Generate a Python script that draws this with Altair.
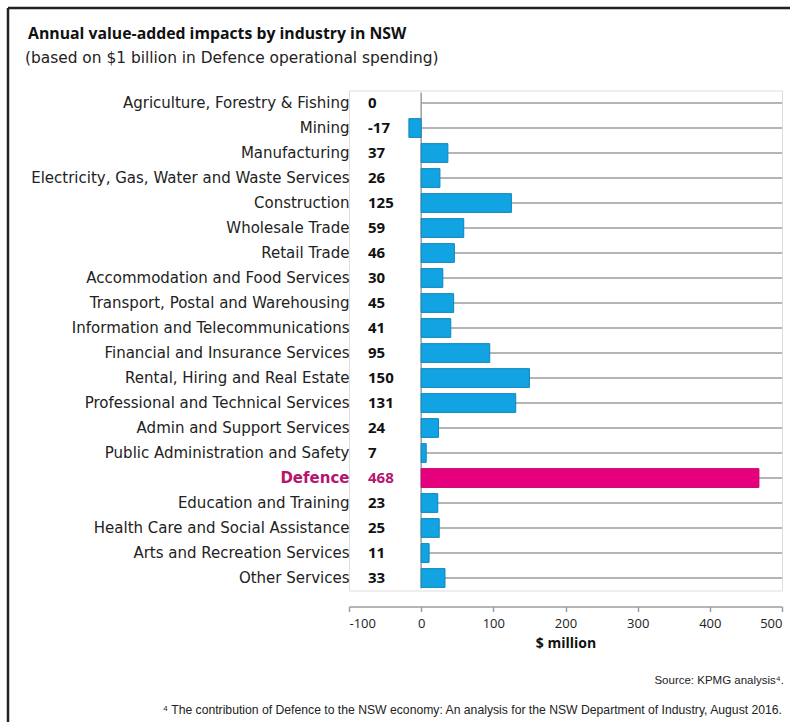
import altair as alt
import pandas as pd

categories = [
    "Agriculture, Forestry & Fishing",
    "Mining",
    "Manufacturing",
    "Electricity, Gas, Water and Waste Services",
    "Construction",
    "Wholesale Trade",
    "Retail Trade",
    "Accommodation and Food Services",
    "Transport, Postal and Warehousing",
    "Information and Telecommunications",
    "Financial and Insurance Services",
    "Rental, Hiring and Real Estate",
    "Professional and Technical Services",
    "Admin and Support Services",
    "Public Administration and Safety",
    "Defence",
    "Education and Training",
    "Health Care and Social Assistance",
    "Arts and Recreation Services",
    "Other Services",
]
values = [0, -17, 37, 26, 125, 59, 46, 30, 45, 41, 95, 150, 131, 24, 7, 468, 23, 25, 11, 33]
highlight = "Defence"
x_ticks = [-100, 0, 100, 200, 300, 400, 500]

title_text = "Annual value-added impacts by industry in NSW"
subtitle_text = "(based on $1 billion in Defence operational spending)"
source_text = "Source: KPMG analysis\u2074."
footnote_text = "\u2074 The contribution of Defence to the NSW economy: An analysis for the NSW Department of Industry, August 2016."

df = pd.DataFrame({
    "cat": categories,
    "val": values,
    "label": [str(v) for v in values],
    "grp": ["hi" if c == highlight else "lo" for c in categories],
})

FONT = "Open Sans"
LFONT = "DejaVu Sans"
W, H = 433, 500

xs = alt.Scale(domain=[-100, 500], nice=False, zero=False)
ys = alt.Scale(domain=categories, paddingInner=0.25, paddingOuter=0.125)

base = alt.Chart(df)

is_hi = "datum.value == '" + highlight + "'"

grid = base.mark_rule(color="#9d9d9d", strokeWidth=1.5).encode(
    y=alt.Y("cat:N", scale=ys, sort=categories,
            axis=alt.Axis(title=None, ticks=False, domain=False, labelPadding=0,
                          labelFont=LFONT, labelFontSize=15,
                          labelColor={"condition": {"test": is_hi, "value": "#b5146f"}, "value": "#222222"},
                          labelFontWeight={"condition": {"test": is_hi, "value": "bold"}, "value": "normal"},
                          labelLimit=400)),
    x=alt.datum(0, scale=xs),
    x2=alt.datum(500),
)

zero_line = alt.Chart(pd.DataFrame({"z": [0]})).mark_rule(color="#9d9d9d", strokeWidth=1.5).encode(
    x=alt.X("z:Q", scale=xs,
            axis=alt.Axis(values=x_ticks, title="$ million", offset=16,
                          labelExpr="'' + datum.value",
                          domainColor="#9d9d9d", domainWidth=1.5,
                          tickColor="#9d9d9d", tickWidth=1.5, tickSize=5,
                          labelFont=FONT, labelFontSize=13, labelColor="#222",
                          labelPadding=6, grid=False,
                          titleFont=FONT, titleFontSize=14, titleFontWeight="bold",
                          titleColor="#111", titlePadding=6)),
    y=alt.value(2),
    y2=alt.value(498),
)

bars = base.transform_filter(alt.datum.val != 0).mark_bar(strokeWidth=1).encode(
    y=alt.Y("cat:N", scale=ys, sort=categories),
    x=alt.X("val:Q", scale=xs),
    x2=alt.datum(0),
    color=alt.Color("grp:N", scale=alt.Scale(domain=["hi", "lo"], range=["#e6007e", "#12a3e3"]), legend=None),
    stroke=alt.Stroke("grp:N", scale=alt.Scale(domain=["hi", "lo"], range=["#c4006b", "#0d86bd"]), legend=None),
)

vals = base.mark_text(align="left", baseline="middle", font=FONT, fontSize=15, fontWeight="bold").encode(
    y=alt.Y("cat:N", scale=ys, sort=categories),
    x=alt.value(19),
    text="label:N",
    color=alt.Color("grp:N", scale=alt.Scale(domain=["hi", "lo"], range=["#b5146f", "#111111"]), legend=None),
)

def txt(s, x, y, **kw):
    return alt.Chart(pd.DataFrame({"t": [s]})).mark_text(**kw).encode(
        x=alt.value(x), y=alt.value(y), text="t:N")

title = txt(title_text, -321, -51.5, align="left", baseline="alphabetic", font=FONT,
            fontSize=15.8, fontWeight="bold", color="#111")
subtitle = txt(subtitle_text, -324, -27.5, align="left", baseline="alphabetic", font=LFONT,
               fontSize=15.4, color="#222")
source = txt(source_text, 435, 593.5, align="right", baseline="alphabetic",
             font="Liberation Sans", fontSize=11.5, color="#222")
footnote = txt(footnote_text, 433, 623.5, align="right", baseline="alphabetic",
               font="Liberation Sans", fontSize=12.2, color="#222")

frame_top = alt.Chart(pd.DataFrame({"t": [0]})).mark_rule(color="#222", strokeWidth=2.5).encode(
    x=alt.value(-341), x2=alt.value(460), y=alt.value(-82.5))
frame_left = alt.Chart(pd.DataFrame({"t": [0]})).mark_rule(color="#222", strokeWidth=2.5).encode(
    x=alt.value(-341), y=alt.value(-82.5), y2=alt.value(650))

chart = alt.layer(
    grid, zero_line, bars, vals,
    title, subtitle, source, footnote, frame_top, frame_left,
).resolve_scale(color="independent", stroke="independent").properties(
    width=W, height=H,
    autosize=alt.AutoSizeParams(type="none"),
    padding={"left": 349, "top": 90.5, "right": 8, "bottom": 131.5},
).configure_view(stroke=None).configure(background="white")

chart.save("out.html", embed_options={"renderer": "svg", "actions": False})
